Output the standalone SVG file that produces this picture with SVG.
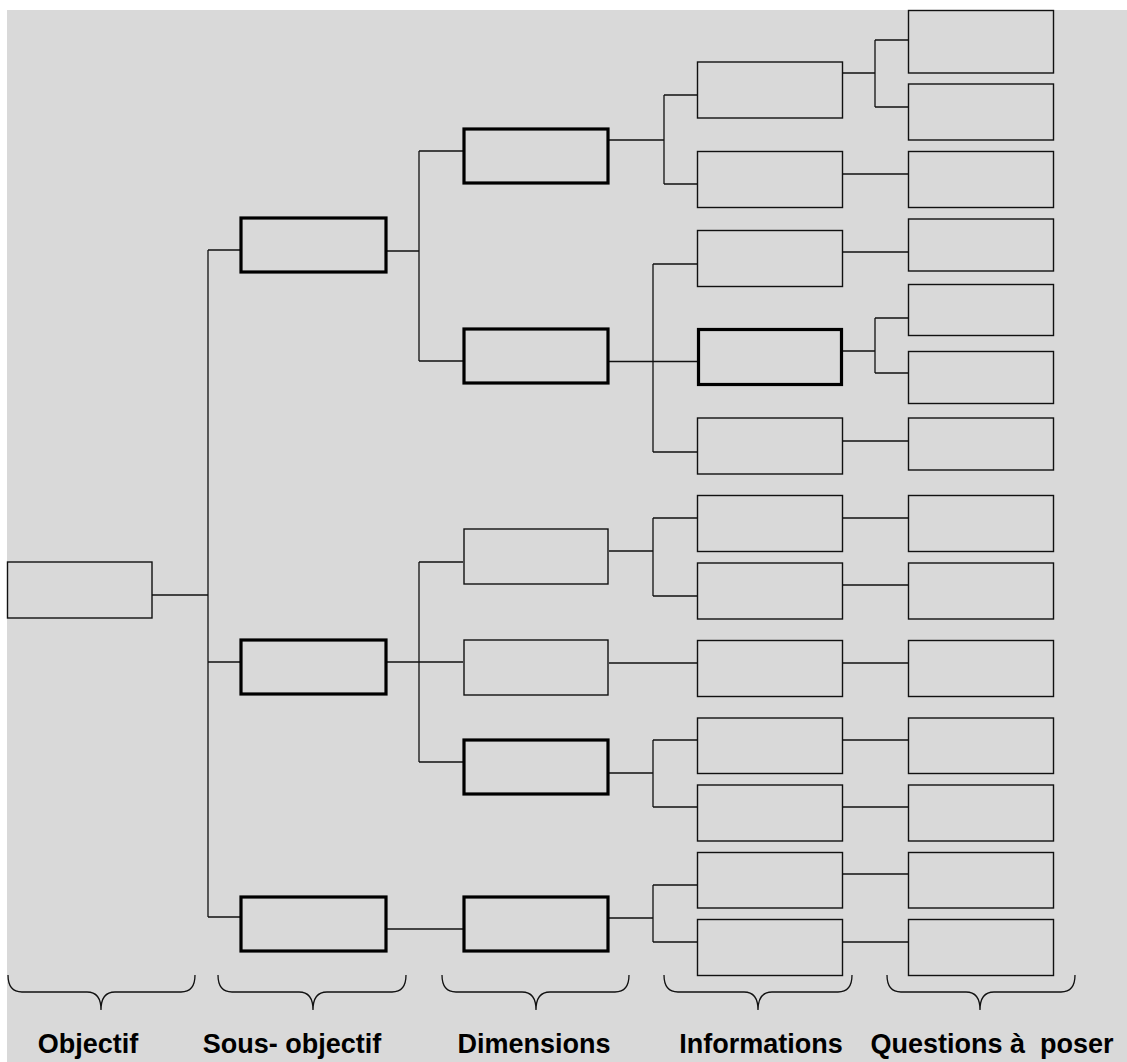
<svg xmlns="http://www.w3.org/2000/svg" width="1127" height="1062" viewBox="0 0 1127 1062">
<style>
.n{fill:#d9d9d9;stroke:#111;stroke-width:1.4}
.t{fill:#d9d9d9;stroke:#000;stroke-width:3.2}
.c{fill:none;stroke:#111;stroke-width:1.3}
.b{fill:none;stroke:#111;stroke-width:1.3}
.l{font-family:"Liberation Sans",Arial,sans-serif;font-weight:bold;font-size:27px;fill:#000;text-anchor:middle}
</style>
<rect x="7" y="10" width="1120" height="1052" fill="#d9d9d9"/>
<g id="connectors">
<path class="c" d="M152 595H208M208 250V917M208 250H240M208 662H240M208 917H240"/>
<path class="c" d="M387 251H419M419 151V361M419 151H463M419 361H463"/>
<path class="c" d="M387 662H419M419 562V762M419 562H463M419 662H463M419 762H463"/>
<path class="c" d="M387 929H463"/>
<path class="c" d="M609 140H664M664 95V184M664 95H697.5M664 184H697.5"/>
<path class="c" d="M609 361.5H697.5M653 264V452M653 264H697.5M653 452H697.5"/>
<path class="c" d="M609 551H653M653 518V596M653 518H697.5M653 596H697.5"/>
<path class="c" d="M609 663H697.5"/>
<path class="c" d="M609 773H653M653 740V807M653 740H697.5M653 807H697.5"/>
<path class="c" d="M609 918H653M653 885V942M653 885H697.5M653 942H697.5"/>
<path class="c" d="M842.5 73H875M875 40V107M875 40H908.5M875 107H908.5"/>
<path class="c" d="M842.5 174H908.5M842.5 252H908.5"/>
<path class="c" d="M842.5 351H875M875 318V373M875 318H908.5M875 373H908.5"/>
<path class="c" d="M842.5 441H908.5M842.5 518H908.5M842.5 585H908.5M842.5 663H908.5M842.5 740H908.5M842.5 807H908.5M842.5 874H908.5M842.5 942H908.5"/>
</g>
<g id="objectif"><rect class="n" x="7.5" y="562" width="144.5" height="56"/></g>
<g id="s1"><rect class="t" x="241" y="218" width="145" height="54"/></g>
<g id="s2"><rect class="t" x="241" y="640" width="145" height="54"/></g>
<g id="s3"><rect class="t" x="241" y="897" width="145" height="54"/></g>
<g id="d1"><rect class="t" x="464" y="129" width="144" height="54"/></g>
<g id="d2"><rect class="t" x="464" y="329" width="144" height="54"/></g>
<g id="d3"><rect class="n" x="464" y="529" width="144" height="55"/></g>
<g id="d4"><rect class="n" x="464" y="640" width="144" height="55"/></g>
<g id="d5"><rect class="t" x="464" y="740" width="144" height="54"/></g>
<g id="d6"><rect class="t" x="464" y="897" width="144" height="54"/></g>
<g id="i1"><rect class="n" x="697.5" y="62" width="145" height="56"/></g>
<g id="i2"><rect class="n" x="697.5" y="151.5" width="145" height="56"/></g>
<g id="i3"><rect class="n" x="697.5" y="230.5" width="145" height="56"/></g>
<g id="i4"><rect class="t" x="698.5" y="329.5" width="143" height="55"/></g>
<g id="i5"><rect class="n" x="697.5" y="418" width="145" height="56"/></g>
<g id="i6"><rect class="n" x="697.5" y="495.5" width="145" height="56"/></g>
<g id="i7"><rect class="n" x="697.5" y="563" width="145" height="56"/></g>
<g id="i8"><rect class="n" x="697.5" y="640.5" width="145" height="56"/></g>
<g id="i9"><rect class="n" x="697.5" y="718" width="145" height="55.5"/></g>
<g id="i10"><rect class="n" x="697.5" y="785" width="145" height="56"/></g>
<g id="i11"><rect class="n" x="697.5" y="852.5" width="145" height="55.5"/></g>
<g id="i12"><rect class="n" x="697.5" y="919.5" width="145" height="56"/></g>
<g id="q1"><rect class="n" x="908.5" y="10.5" width="145" height="62.5"/></g>
<g id="q2"><rect class="n" x="908.5" y="84" width="145" height="56"/></g>
<g id="q3"><rect class="n" x="908.5" y="151.5" width="145" height="56"/></g>
<g id="q4"><rect class="n" x="908.5" y="219" width="145" height="52"/></g>
<g id="q5"><rect class="n" x="908.5" y="284.5" width="145" height="51"/></g>
<g id="q6"><rect class="n" x="908.5" y="351.5" width="145" height="52"/></g>
<g id="q7"><rect class="n" x="908.5" y="418" width="145" height="52"/></g>
<g id="q8"><rect class="n" x="908.5" y="495.5" width="145" height="56"/></g>
<g id="q9"><rect class="n" x="908.5" y="563" width="145" height="56"/></g>
<g id="q10"><rect class="n" x="908.5" y="640.5" width="145" height="56"/></g>
<g id="q11"><rect class="n" x="908.5" y="718" width="145" height="55.5"/></g>
<g id="q12"><rect class="n" x="908.5" y="785" width="145" height="56"/></g>
<g id="q13"><rect class="n" x="908.5" y="852.5" width="145" height="55.5"/></g>
<g id="q14"><rect class="n" x="908.5" y="919.5" width="145" height="56"/></g>
<g id="braces">
<path class="b" d="M8 975Q8 992 22 992H87Q101 992 101 1010Q101 992 115 992H181Q195 992 195 975"/>
<path class="b" d="M218 975Q218 992 232 992H299Q313 992 313 1010Q313 992 327 992H392Q406 992 406 975"/>
<path class="b" d="M442 975Q442 992 456 992H522Q536 992 536 1010Q536 992 550 992H615Q629 992 629 975"/>
<path class="b" d="M664 975Q664 992 678 992H744Q758 992 758 1010Q758 992 772 992H838Q852 992 852 975"/>
<path class="b" d="M887 975Q887 992 901 992H966Q980 992 980 1010Q980 992 994 992H1061Q1075 992 1075 975"/>
</g>
<g id="labels">
<text class="l" x="88" y="1053">Objectif</text>
<text class="l" x="292" y="1053">Sous- objectif</text>
<text class="l" x="534" y="1053">Dimensions</text>
<text class="l" x="761" y="1053">Informations</text>
<text class="l" x="992" y="1053" xml:space="preserve">Questions à  poser</text>
</g>
</svg>
